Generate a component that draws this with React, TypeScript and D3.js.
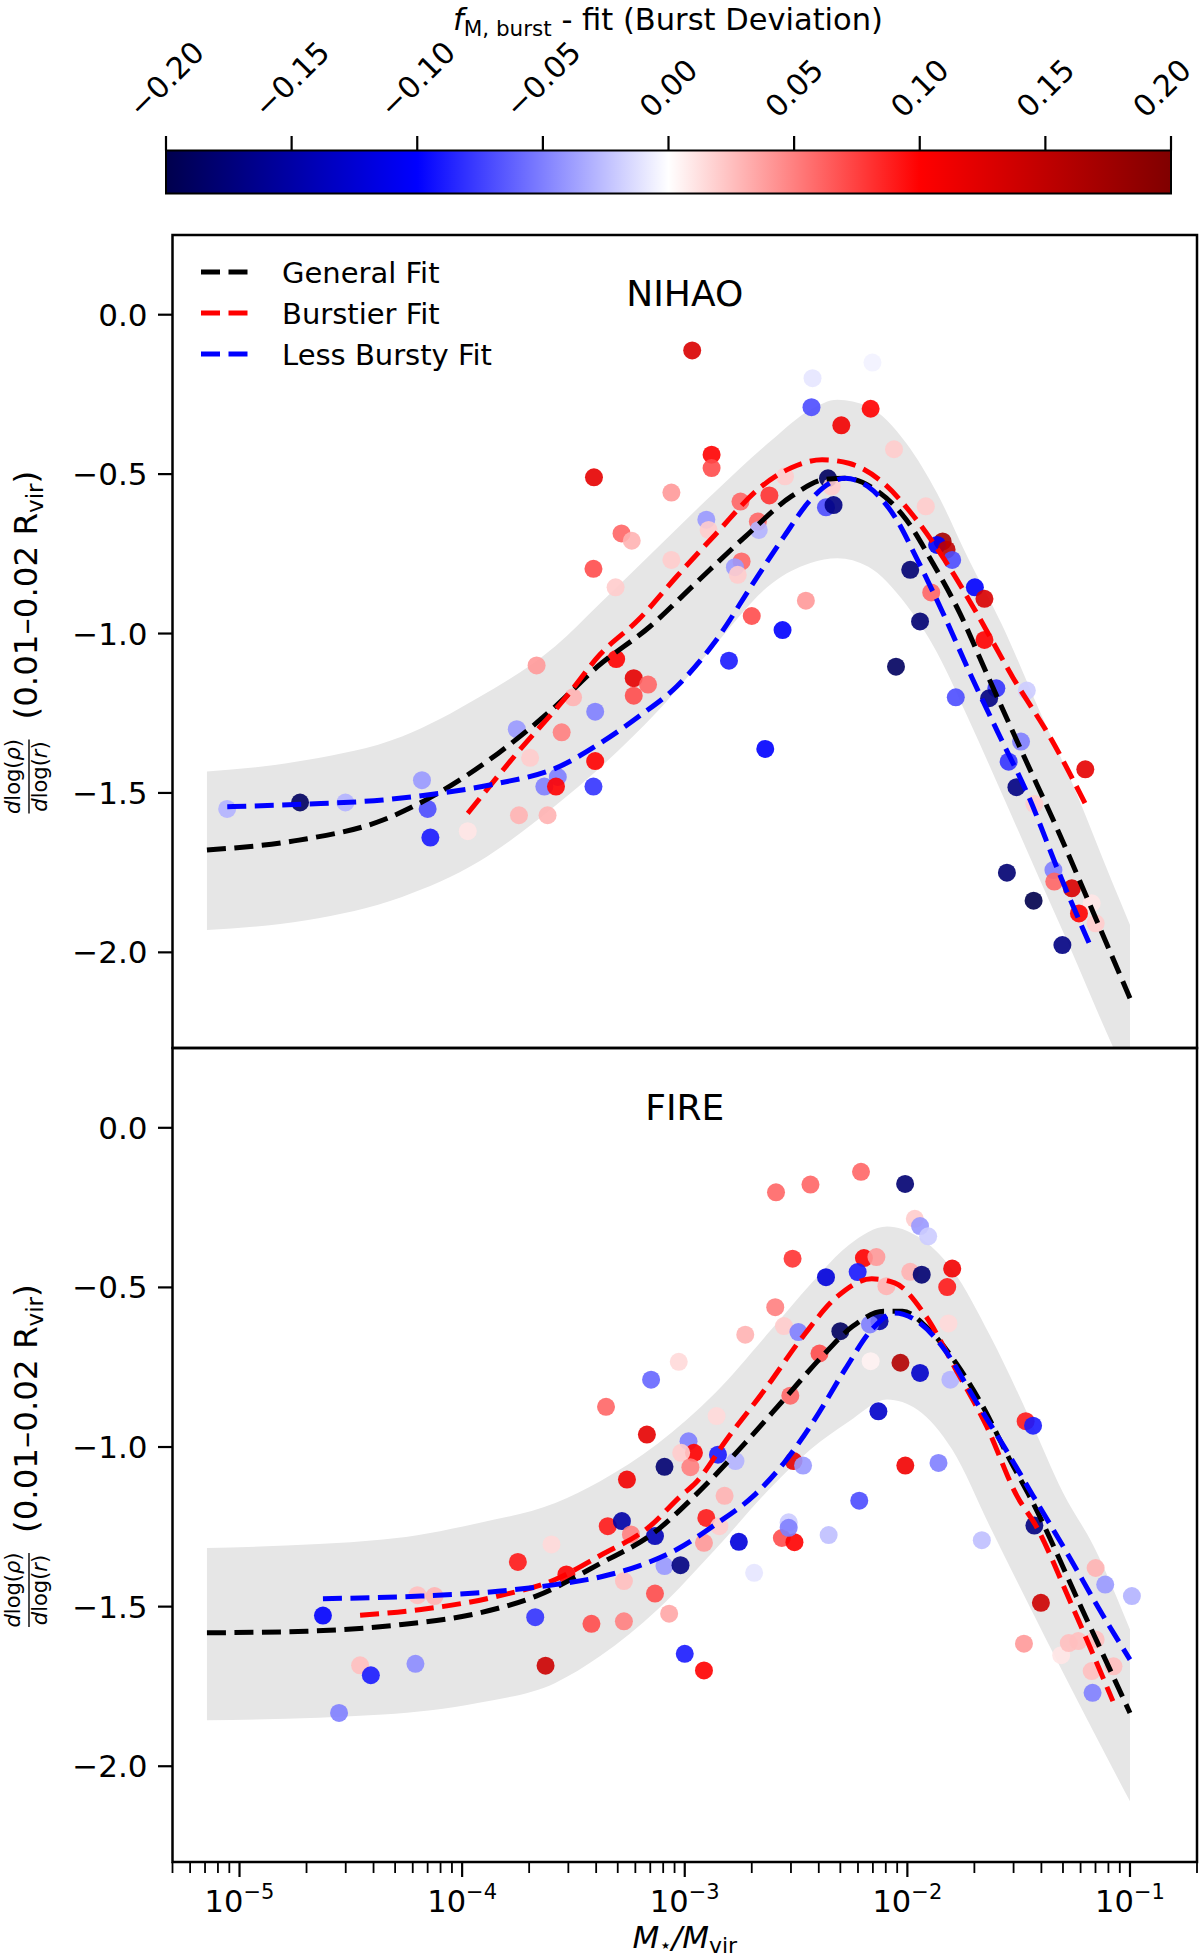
import React from "react"
import * as d3 from "d3"

type Pt = [number, number, number]
type XY = [number, number]

const FONT = "DejaVu Sans, Verdana, sans-serif"

const X_DOMAIN: [number, number] = [5e-6, 0.2]
const Y_DOMAIN: [number, number] = [-2.3, 0.25]
const X_MAJOR = [1e-5, 1e-4, 1e-3, 1e-2, 1e-1]
const X_EXP = ["\u22125", "\u22124", "\u22123", "\u22122", "\u22121"]
const Y_TICKS = [0, -0.5, -1, -1.5, -2]
const CBAR_TICKS = [-0.2, -0.15, -0.1, -0.05, 0, 0.05, 0.1, 0.15, 0.2]
const SEISMIC = ["#00004d", "#0000ff", "#ffffff", "#ff0000", "#800000"]
const FIT_NAMES = ["General Fit", "Burstier Fit", "Less Bursty Fit"]
const FIT_COLORS = ["#000000", "#ff0000", "#0000ff"]

// NIHAO: [M*/Mvir, slope, burst deviation]
const nihaoPoints: Pt[] = [
  [8.8e-6, -1.55, -0.03], [1.87e-5, -1.53, -0.19], [2.99e-5, -1.53, -0.03], [6.6e-5, -1.46, -0.04],
  [7.0e-5, -1.55, -0.07], [7.2e-5, -1.64, -0.09], [1.06e-4, -1.62, 0.01], [1.76e-4, -1.3, -0.04],
  [2.16e-4, -1.1, 0.04], [1.8e-4, -1.57, 0.03], [2.42e-4, -1.57, 0.03], [2.02e-4, -1.39, 0.02],
  [3.15e-4, -1.2, 0.03], [2.8e-4, -1.31, 0.05], [2.34e-4, -1.48, -0.05], [2.69e-4, -1.45, -0.05],
  [2.64e-4, -1.48, 0.1], [3.89e-4, -1.48, -0.08], [3.96e-4, -1.4, 0.1], [3.96e-4, -1.245, -0.05],
  [4.89e-4, -0.855, 0.02], [3.91e-4, -0.51, 0.12], [3.89e-4, -0.797, 0.07], [5.2e-4, -0.686, 0.06],
  [5.78e-4, -0.709, 0.03], [4.92e-4, -1.08, 0.1], [5.9e-4, -1.14, 0.12], [6.84e-4, -1.16, 0.06],
  [5.9e-4, -1.195, 0.07], [1.08e-3, -0.112, 0.13], [3.75e-3, -0.199, -0.01], [6.97e-3, -0.15, -0.005],
  [3.71e-3, -0.29, -0.07], [6.84e-3, -0.295, 0.1], [5.05e-3, -0.347, 0.11], [8.71e-3, -0.422, 0.02],
  [1.32e-3, -0.439, 0.1], [1.32e-3, -0.481, 0.07], [8.71e-4, -0.558, 0.04], [2.82e-3, -0.507, 0.02],
  [4.4e-3, -0.513, -0.19], [4.57e-3, -0.539, 0.02], [4.31e-3, -0.604, -0.07], [4.66e-3, -0.597, -0.17],
  [1.78e-3, -0.586, 0.06], [2.4e-3, -0.567, 0.08], [2.13e-3, -0.649, 0.06], [1.25e-3, -0.643, -0.04],
  [1.28e-3, -0.675, 0.02], [2.15e-3, -0.675, -0.03], [1.21e-2, -0.601, 0.02], [8.71e-4, -0.769, 0.02],
  [1.8e-3, -0.774, 0.06], [1.68e-3, -0.792, -0.04], [1.73e-3, -0.816, 0.02], [3.5e-3, -0.897, 0.04],
  [2.0e-3, -0.945, 0.07], [2.75e-3, -0.989, -0.1], [1.58e-3, -1.085, -0.09], [2.3e-3, -1.362, -0.1],
  [8.89e-3, -1.104, -0.19], [1.65e-2, -1.2, -0.07], [2.51e-2, -1.172, -0.08], [2.33e-2, -1.203, -0.17],
  [3.44e-2, -1.179, -0.02], [3.24e-2, -1.339, -0.05], [2.85e-2, -1.402, -0.08], [3.09e-2, -1.482, -0.17],
  [3.72e-2, -1.535, 0.02], [6.3e-2, -1.426, 0.12], [2.8e-2, -1.75, -0.18], [3.69e-2, -1.838, -0.2],
  [4.53e-2, -1.742, -0.05], [4.57e-2, -1.778, 0.06], [5.48e-2, -1.799, 0.13], [6.73e-2, -1.846, 0.01],
  [5.9e-2, -1.878, 0.1], [7.01e-2, -1.909, 0.02], [4.97e-2, -1.977, -0.17], [1.44e-2, -0.711, 0.17],
  [1.36e-2, -0.722, -0.1], [1.5e-2, -0.737, 0.15], [1.59e-2, -0.769, -0.07], [1.03e-2, -0.8, -0.18],
  [1.28e-2, -0.871, 0.06], [1.14e-2, -0.962, -0.18], [2.01e-2, -0.855, -0.1], [2.22e-2, -0.891, 0.13],
  [2.22e-2, -1.02, 0.1],
]

const nihaoGeneral: XY[] = [
  [7.14e-6, -1.679], [1.85e-5, -1.648], [4.41e-5, -1.585], [7.08e-5, -1.517], [1.45e-4, -1.376],
  [2.62e-4, -1.229], [4.05e-4, -1.104], [6.98e-4, -0.978], [1.12e-3, -0.842], [1.87e-3, -0.696],
  [3.01e-3, -0.57], [4.31e-3, -0.516], [5.25e-3, -0.513], [7.19e-3, -0.549], [9.89e-3, -0.643],
  [1.3e-2, -0.779], [1.72e-2, -0.936], [2.27e-2, -1.125], [3.24e-2, -1.365], [4.81e-2, -1.627],
  [6.87e-2, -1.878], [0.1, -2.144],
]
const nihaoBurstier: XY[] = [
  [1.06e-4, -1.564], [1.76e-4, -1.376], [2.94e-4, -1.198], [4.17e-4, -1.065], [6.19e-4, -0.957],
  [9.2e-4, -0.821], [1.37e-3, -0.69], [2.2e-3, -0.54], [3.01e-3, -0.48], [4.14e-3, -0.455],
  [5.46e-3, -0.466], [7.8e-3, -0.528], [1.07e-2, -0.633], [1.47e-2, -0.769], [2.01e-2, -0.926],
  [2.99e-2, -1.14], [4.45e-2, -1.334], [6.34e-2, -1.538],
]
const nihaoLessBursty: XY[] = [
  [8.81e-6, -1.543], [2.0e-5, -1.535], [4.41e-5, -1.522], [7.98e-5, -1.501], [1.45e-4, -1.47],
  [2.62e-4, -1.423], [4.17e-4, -1.344], [6.19e-4, -1.261], [9.2e-4, -1.166], [1.37e-3, -1.025],
  [2.03e-3, -0.842], [2.79e-3, -0.696], [3.67e-3, -0.581], [4.48e-3, -0.528], [5.25e-3, -0.513],
  [6.65e-3, -0.539], [8.77e-3, -0.633], [1.11e-2, -0.769], [1.47e-2, -0.947], [1.94e-2, -1.135],
  [2.55e-2, -1.31], [3.51e-2, -1.512], [4.81e-2, -1.752], [6.61e-2, -1.977],
]
const nihaoBandX = [
  7.14e-6, 2.0e-5, 5.37e-5, 1.19e-4, 2.62e-4, 4.17e-4, 7.55e-4, 1.37e-3, 2.47e-3, 3.67e-3,
  4.85e-3, 6.65e-3, 9.89e-3, 1.36e-2, 1.86e-2, 2.65e-2, 3.94e-2, 5.42e-2, 8.38e-2, 0.1,
]
const nihaoBandHi = [
  -1.433, -1.397, -1.323, -1.2, -1.04, -0.905, -0.73, -0.555, -0.392, -0.298,
  -0.267, -0.288, -0.403, -0.56, -0.759, -0.97, -1.245, -1.459, -1.785, -1.914,
]
const nihaoBandLo = [
  -1.93, -1.899, -1.826, -1.715, -1.54, -1.42, -1.244, -1.035, -0.842, -0.779,
  -0.764, -0.79, -0.91, -1.06, -1.26, -1.5, -1.773, -1.99, -2.296, -2.41,
]

// FIRE
const firePoints: Pt[] = [
  [2.37e-5, -1.528, -0.1], [3.48e-5, -1.684, 0.025], [3.89e-5, -1.715, -0.09], [2.8e-5, -1.833, -0.05],
  [6.17e-5, -1.679, -0.045], [6.3e-5, -1.464, 0.025], [7.52e-5, -1.467, 0.03], [1.78e-4, -1.36, 0.09],
  [2.52e-4, -1.305, 0.015], [2.94e-4, -1.399, 0.1], [2.13e-4, -1.533, -0.08], [2.37e-4, -1.685, 0.14],
  [3.81e-4, -1.554, 0.07], [6.19e-3, -0.138, 0.06], [3.67e-3, -0.178, 0.06], [2.57e-3, -0.202, 0.06],
  [9.77e-3, -0.176, -0.18], [1.08e-2, -0.285, 0.02], [1.14e-2, -0.308, -0.04], [1.24e-2, -0.34, -0.02],
  [3.05e-3, -0.41, 0.08], [6.38e-3, -0.408, 0.1], [7.26e-3, -0.405, 0.04], [1.59e-2, -0.441, 0.11],
  [1.51e-2, -0.499, 0.09], [4.31e-3, -0.468, -0.12], [5.98e-3, -0.452, -0.09], [1.03e-2, -0.451, 0.03],
  [1.16e-2, -0.46, -0.18], [8.05e-3, -0.496, 0.03], [5.0e-3, -0.637, -0.19], [7.5e-3, -0.606, -0.15],
  [6.79e-3, -0.616, -0.05], [2.55e-3, -0.562, 0.05], [2.79e-3, -0.621, 0.02], [3.24e-3, -0.64, -0.05],
  [1.87e-3, -0.648, 0.03], [1.53e-2, -0.613, 0.015], [9.4e-4, -0.733, 0.015], [4.03e-3, -0.707, 0.07],
  [6.84e-3, -0.731, 0.005], [9.31e-3, -0.736, 0.16], [1.14e-2, -0.768, -0.13], [1.56e-2, -0.789, -0.03],
  [7.06e-4, -0.789, -0.06], [7.41e-3, -0.888, -0.13], [4.43e-4, -0.874, 0.06], [2.98e-3, -0.839, 0.06],
  [3.4e-2, -0.919, 0.09], [3.67e-2, -0.933, -0.09], [6.76e-4, -0.961, 0.12], [1.04e-3, -0.982, -0.05],
  [1.1e-3, -1.018, 0.1], [9.64e-4, -1.018, 0.02], [1.41e-3, -1.024, -0.09], [1.69e-3, -1.044, -0.03],
  [1.06e-3, -1.063, 0.05], [8.11e-4, -1.062, -0.18], [5.5e-4, -1.102, 0.11], [3.08e-3, -1.044, 0.12],
  [3.4e-3, -1.058, -0.04], [9.79e-3, -1.058, 0.11], [1.38e-2, -1.05, -0.05], [1.51e-3, -1.153, 0.03],
  [6.08e-3, -1.168, -0.07], [4.51e-4, -1.248, 0.09], [5.22e-4, -1.232, -0.15], [5.73e-4, -1.274, 0.05],
  [7.35e-4, -1.279, -0.14], [1.25e-3, -1.222, 0.09], [1.22e-3, -1.3, 0.04], [1.43e-3, -1.248, 0.02],
  [8.11e-4, -1.373, -0.04], [9.57e-4, -1.37, -0.17], [5.33e-4, -1.42, 0.025], [5.33e-4, -1.546, 0.05],
  [7.35e-4, -1.459, 0.07], [8.51e-4, -1.522, 0.035], [1.0e-3, -1.648, -0.09], [1.22e-3, -1.7, 0.1],
  [1.75e-3, -1.297, -0.12], [2.05e-3, -1.394, -0.01], [2.73e-3, -1.285, 0.07], [3.11e-3, -1.298, 0.1],
  [2.93e-3, -1.236, -0.02], [2.93e-3, -1.253, -0.05], [4.43e-3, -1.276, -0.025], [2.16e-2, -1.292, -0.025],
  [3.72e-2, -1.246, -0.17], [3.98e-2, -1.488, 0.14], [3.34e-2, -1.616, 0.04], [4.91e-2, -1.652, 0.01],
  [5.31e-2, -1.614, 0.025], [5.86e-2, -1.608, 0.025], [7.01e-2, -1.379, 0.03], [7.74e-2, -1.431, -0.04],
  [1.02e-1, -1.467, -0.03], [7.01e-2, -1.603, 0.025], [6.73e-2, -1.702, 0.025], [8.43e-2, -1.687, 0.025],
  [6.79e-2, -1.77, -0.05], [1.39e-3, -0.903, 0.015],
]

const fireGeneral: XY[] = [
  [7.14e-6, -1.582], [2.0e-5, -1.577], [5.37e-5, -1.556], [1.19e-4, -1.52], [2.15e-4, -1.467],
  [4.17e-4, -1.365], [7.26e-4, -1.269], [1.12e-3, -1.15], [1.87e-3, -0.987], [2.79e-3, -0.851],
  [4.14e-3, -0.716], [5.68e-3, -0.622], [7.8e-3, -0.575], [9.51e-3, -0.575], [1.25e-2, -0.632],
  [1.65e-2, -0.736], [2.18e-2, -0.872], [2.88e-2, -1.039], [3.57e-2, -1.159], [6.1e-2, -1.509],
  [0.1, -1.833],
]
const fireBurstier: XY[] = [
  [3.48e-5, -1.527], [6.54e-5, -1.509], [1.45e-4, -1.467], [2.62e-4, -1.415], [4.17e-4, -1.34],
  [6.98e-4, -1.248], [9.57e-4, -1.154], [1.12e-3, -1.112], [1.54e-3, -0.977], [2.29e-3, -0.82],
  [3.4e-3, -0.653], [4.85e-3, -0.528], [6.92e-3, -0.473], [8.77e-3, -0.486], [1.21e-2, -0.59],
  [1.65e-2, -0.757], [2.27e-2, -0.935], [3.11e-2, -1.154], [3.79e-2, -1.248], [5.42e-2, -1.488],
  [8.38e-2, -1.796],
]
const fireLessBursty: XY[] = [
  [2.37e-5, -1.475], [6.54e-5, -1.467], [1.45e-4, -1.452], [2.62e-4, -1.431], [4.17e-4, -1.407],
  [6.19e-4, -1.373], [9.2e-4, -1.321], [1.37e-3, -1.243], [2.03e-3, -1.154], [2.79e-3, -1.05],
  [3.83e-3, -0.914], [5.25e-3, -0.757], [6.92e-3, -0.632], [8.77e-3, -0.58], [1.11e-2, -0.606],
  [1.47e-2, -0.695], [2.01e-2, -0.851], [2.77e-2, -1.008], [3.65e-2, -1.15], [5.42e-2, -1.352],
  [7.15e-2, -1.499], [0.1, -1.666],
]
const fireBandX = [
  7.14e-6, 4.41e-5, 1.19e-4, 2.62e-4, 4.17e-4, 7.55e-4, 1.37e-3, 2.47e-3, 3.67e-3,
  5.46e-3, 8.11e-3, 1.11e-2, 1.59e-2, 2.36e-2, 3.51e-2, 5.01e-2, 6.87e-2, 0.1,
]
const fireBandHi = [
  -1.316, -1.29, -1.238, -1.175, -1.107, -0.99, -0.831, -0.629, -0.49,
  -0.367, -0.309, -0.34, -0.444, -0.653, -0.904, -1.144, -1.311, -1.572,
]
const fireBandLo = [
  -1.856, -1.838, -1.801, -1.739, -1.655, -1.509, -1.321, -1.123, -1.008,
  -0.92, -0.851, -0.883, -1.008, -1.252, -1.494, -1.707, -1.893, -2.11,
]

const PLOT_L = 172.5
const PLOT_R = 1197
const x = d3.scaleLog().domain(X_DOMAIN).range([PLOT_L, PLOT_R])
const color = d3.scaleLinear<string>().domain([-0.2, -0.1, 0, 0.1, 0.2]).range(SEISMIC).clamp(true)
const fmtY = d3.format(".1f")
const fmtC = d3.format(".2f")

// rough DejaVu Sans widths, used to place the rotated colorbar labels
const charW = (s: string) =>
  s.split("").reduce((a, ch) => a + (ch === "\u2212" ? 0.838 : ch === "." ? 0.318 : 0.636), 0)

interface PanelProps {
  top: number
  bottom: number
  id: string
  name: string
  nameY: number
  points: Pt[]
  fits: XY[][]
  bandX: number[]
  bandHi: number[]
  bandLo: number[]
  legend?: boolean
  xAxis?: boolean
}

function Panel(p: PanelProps) {
  const y = d3.scaleLinear().domain(Y_DOMAIN).range([p.bottom, p.top])
  const line = d3.line<XY>().x(d => x(d[0])).y(d => y(d[1])).curve(d3.curveMonotoneX)
  const area = d3
    .area<number>()
    .x(d => x(d))
    .y0((d, i) => y(p.bandLo[i]))
    .y1((d, i) => y(p.bandHi[i]))
    .curve(d3.curveMonotoneX)
  const minor = x.ticks().filter(t => !X_MAJOR.some(m => Math.abs(m - t) / m < 1e-6))
  const cy = (p.top + p.bottom) / 2

  return (
    <g>
      <clipPath id={`clip-${p.id}`}>
        <rect x={PLOT_L} y={p.top} width={PLOT_R - PLOT_L} height={p.bottom - p.top} />
      </clipPath>
      <g clipPath={`url(#clip-${p.id})`}>
        <path d={area(p.bandX) || ""} fill="#e6e6e6" />
        {p.points.map((d, i) => (
          <circle key={i} cx={x(d[0])} cy={y(d[1])} r={9} fill={color(d[2])} fillOpacity={0.9} />
        ))}
        {p.fits.map((f, i) => (
          <path key={i} d={line(f) || ""} fill="none" stroke={FIT_COLORS[i]} strokeWidth={5} strokeDasharray="19 8.5" />
        ))}
      </g>
      <rect x={PLOT_L} y={p.top} width={PLOT_R - PLOT_L} height={p.bottom - p.top} fill="none" stroke="#000" strokeWidth={2.5} />

      {Y_TICKS.map(t => (
        <g key={t}>
          <line x1={PLOT_L - 14.5} x2={PLOT_L} y1={y(t)} y2={y(t)} stroke="#000" strokeWidth={2.2} />
          <text x={PLOT_L - 25} y={y(t) + 11} textAnchor="end" fontSize={31}>{fmtY(t)}</text>
        </g>
      ))}

      <text x={(PLOT_L + PLOT_R) / 2} y={p.nameY} textAnchor="middle" fontSize={36}>{p.name}</text>

      <g transform={`translate(29, ${cy}) rotate(-90)`}>
        <text x={-135} y={-9} textAnchor="middle" fontSize={21}>
          <tspan fontStyle="italic">d</tspan>log(<tspan fontStyle="italic">ρ</tspan>)
        </text>
        <line x1={-172} x2={-98} y1={0} y2={0} stroke="#000" strokeWidth={1.4} />
        <text x={-135} y={18} textAnchor="middle" fontSize={21}>
          <tspan fontStyle="italic">d</tspan>log(<tspan fontStyle="italic">r</tspan>)
        </text>
        <text x={-78} y={8} fontSize={32.5}>
          (0.01–0.02 R<tspan fontSize={23} dy={6}>vir</tspan><tspan dy={-6}>)</tspan>
        </text>
      </g>

      {p.legend &&
        FIT_NAMES.map((n, i) => (
          <g key={n}>
            <line x1={201} x2={249} y1={272 + i * 41} y2={272 + i * 41} stroke={FIT_COLORS[i]} strokeWidth={5} strokeDasharray="19 8.5" />
            <text x={282} y={283 + i * 41} fontSize={29}>{n}</text>
          </g>
        ))}

      {p.xAxis && (
        <g>
          {X_MAJOR.map((t, i) => (
            <g key={t}>
              <line x1={x(t)} x2={x(t)} y1={p.bottom} y2={p.bottom + 15} stroke="#000" strokeWidth={2.2} />
              <text x={x(t)} y={1912} textAnchor="middle" fontSize={30.5}>
                10<tspan fontSize={21} dy={-13}>{X_EXP[i]}</tspan>
              </text>
            </g>
          ))}
          {minor.map(t => (
            <line key={t} x1={x(t)} x2={x(t)} y1={p.bottom} y2={p.bottom + 11} stroke="#000" strokeWidth={1.8} />
          ))}
          <text x={(PLOT_L + PLOT_R) / 2} y={1948} textAnchor="middle" fontSize={31}>
            <tspan fontStyle="italic">M</tspan>
            <tspan fontSize={20} dy={4}>⋆</tspan>
            <tspan dy={-4} fontStyle="italic">/M</tspan>
            <tspan fontSize={22} dy={5}>vir</tspan>
          </text>
        </g>
      )}
    </g>
  )
}

function Colorbar() {
  const cx = d3.scaleLinear().domain([-0.2, 0.2]).range([166, 1171])
  return (
    <g>
      <defs>
        <linearGradient id="seismic" x1="0" x2="1" y1="0" y2="0">
          {SEISMIC.map((c, i) => (
            <stop key={i} offset={i / (SEISMIC.length - 1)} stopColor={c} />
          ))}
        </linearGradient>
      </defs>
      <rect x={166} y={150.5} width={1005} height={43} fill="url(#seismic)" stroke="#000" strokeWidth={2} />
      {CBAR_TICKS.map(t => {
        const label = fmtC(t)
        const L = charW(label) * 30
        const ly = 122 - (L + 29) / 2.83
        const lx = cx(t) - (t === 0.2 ? 9 : 0)
        return (
          <g key={t}>
            <line x1={cx(t)} x2={cx(t)} y1={150.5} y2={136} stroke="#000" strokeWidth={2.2} />
            <text
              x={lx}
              y={ly}
              textAnchor="middle"
              dominantBaseline="central"
              fontSize={30}
              transform={`rotate(-45, ${lx}, ${ly})`}
            >
              {label}
            </text>
          </g>
        )
      })}
      <text x={668} y={29.5} textAnchor="middle" fontSize={30.5}>
        <tspan fontStyle="italic">f</tspan>
        <tspan fontSize={21.5} dy={6}>M, burst</tspan>
        <tspan dy={-6}> - fit (Burst Deviation)</tspan>
      </text>
    </g>
  )
}

export default function App() {
  return (
    <div style={{ position: "absolute", left: 0, top: 0 }}>
      <svg width={1200} height={1960} fontFamily={FONT} style={{ display: "block", background: "#fff" }}>
        <Colorbar />
        <Panel
          id="nihao"
          top={235}
          bottom={1048}
          name="NIHAO"
          nameY={306}
          points={nihaoPoints}
          fits={[nihaoGeneral, nihaoBurstier, nihaoLessBursty]}
          bandX={nihaoBandX}
          bandHi={nihaoBandHi}
          bandLo={nihaoBandLo}
          legend
        />
        <Panel
          id="fire"
          top={1048}
          bottom={1862}
          name="FIRE"
          nameY={1120}
          points={firePoints}
          fits={[fireGeneral, fireBurstier, fireLessBursty]}
          bandX={fireBandX}
          bandHi={fireBandHi}
          bandLo={fireBandLo}
          xAxis
        />
      </svg>
    </div>
  )
}
